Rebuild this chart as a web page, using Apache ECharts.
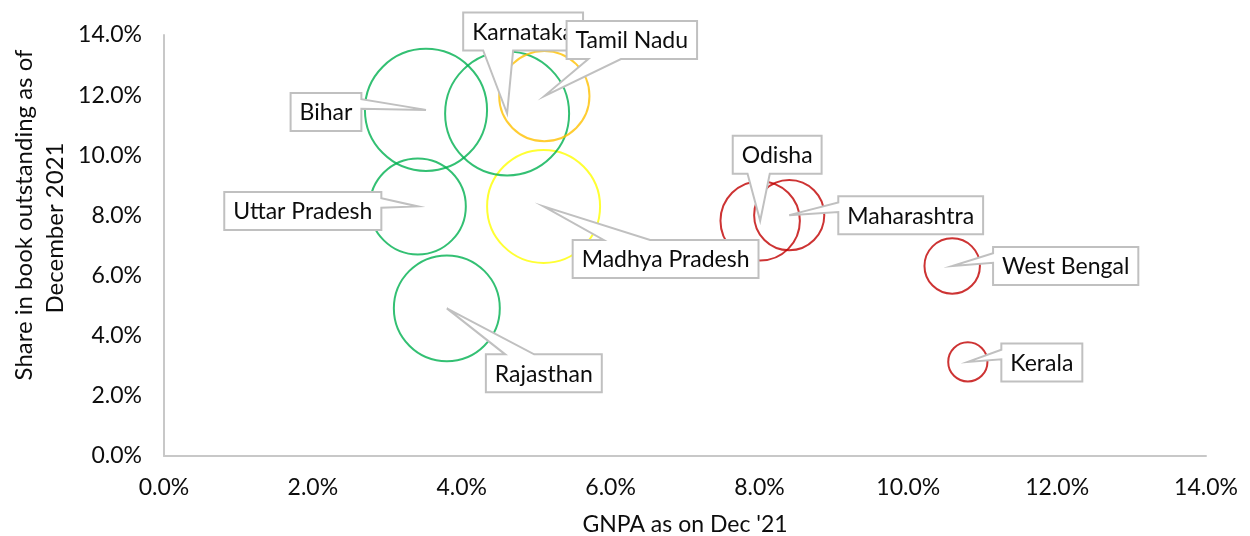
<!DOCTYPE html>
<html>
<head>
<meta charset="utf-8">
<script src="https://cdn.jsdelivr.net/npm/echarts@6/dist/echarts.min.js"></script>
<style>
  html, body { margin: 0; padding: 0; background: #ffffff; }
  #chart { width: 1250px; height: 536px; }
</style>
</head>
<body>
<div id="chart"></div>
<script>
// State-wise GNPA vs. share in book outstanding (Dec 2021); bubble area = relative portfolio size
const states     = ['Bihar', 'Uttar Pradesh', 'Rajasthan', 'Madhya Pradesh', 'Karnataka', 'Tamil Nadu', 'Odisha', 'Maharashtra', 'West Bengal', 'Kerala'];
const gnpa       = [3.52, 3.41, 3.80, 5.10, 4.61, 5.11, 8.01, 8.40, 10.59, 10.80];   // % GNPA as on Dec '21
const share      = [11.51, 8.30, 4.91, 8.30, 11.39, 11.97, 7.82, 8.01, 6.32, 3.13];  // % share in book outstanding
const bubbleSize = [97, 60, 73, 83, 100, 53, 41, 32, 20, 10];                      // relative size (largest = 100)
const bubbleBand = ['green', 'green', 'green', 'yellow', 'green', 'amber', 'red', 'red', 'red', 'red'];
const axisTicks  = [0, 2, 4, 6, 8, 10, 12, 14];
const yTitleLines = ['Share in book outstanding as of', 'December 2021'];
const xTitle = "GNPA as on Dec '21";

// ---- styling / layout ----
const bandColor = { green: '#00b050', amber: '#ffc000', yellow: '#ffff00', red: '#c00000' };
const MAX_DIAMETER = 124;
const FONT_FAMILY = 'Lato, "Open Sans", sans-serif';
const FONT_SIZE = 23;
const TITLE_FONT_SIZE = 24;
const TEXT_COLOR = '#0d0d0d';
const BOX_H = 38, BOX_PAD = 9;
// callout box centre, relative to the bubble centre (px)
const calloutOffset = {
  'Bihar': [-100, 2], 'Uttar Pradesh': [-115, 4.5], 'Rajasthan': [97, 65], 'Madhya Pradesh': [122, 52.5],
  'Karnataka': [16, -82], 'Tamil Nadu': [87.5, -56], 'Odisha': [17, -66], 'Maharashtra': [121.5, 0],
  'West Bengal': [113.5, 0], 'Kerala': [74, 0.5]
};

const measureCtx = document.createElement('canvas').getContext('2d');
measureCtx.font = FONT_SIZE + 'px ' + FONT_FAMILY;
function textWidth(s) { return measureCtx.measureText(s).width; }

// Rectangular callout with a wedge pointing to (tx, ty), following the wedgeRectCallout geometry
function calloutPoints(x0, y0, w, h, tx, ty) {
  const x1 = x0 + w, y1 = y0 + h;
  const dx = tx - (x0 + w / 2), dy = ty - (y0 + h / 2);
  const dq = dx * h / w;
  let side;
  if (Math.abs(dy) > Math.abs(dq)) side = dy < 0 ? 'top' : 'bottom';
  else side = dx < 0 ? 'left' : 'right';
  const xa = x0 + w * (dx > 0 ? 7 : 2) / 12, xb = x0 + w * (dx > 0 ? 10 : 5) / 12;
  const ya = y0 + h * (dy > 0 ? 7 : 2) / 12, yb = y0 + h * (dy > 0 ? 10 : 5) / 12;
  const p = [[x0, y0]];
  if (side === 'top') p.push([xa, y0], [tx, ty], [xb, y0]);
  p.push([x1, y0]);
  if (side === 'right') p.push([x1, ya], [tx, ty], [x1, yb]);
  p.push([x1, y1]);
  if (side === 'bottom') p.push([xb, y1], [tx, ty], [xa, y1]);
  p.push([x0, y1]);
  if (side === 'left') p.push([x0, yb], [tx, ty], [x0, ya]);
  return p;
}

const points = states.map((s, i) => ({
  value: [gnpa[i], share[i], bubbleSize[i], i],
  itemStyle: { borderColor: bandColor[bubbleBand[i]] }
}));

const chart = echarts.init(document.getElementById('chart'), null, { renderer: 'canvas' });

const axisCommon = {
  type: 'value', min: 0, max: 14, interval: 2,
  splitLine: { show: false },
  axisTick: { show: false },
  axisLine: { show: true, lineStyle: { color: '#c8c8c8', width: 2 } },
  axisLabel: {
    formatter: v => axisTicks.includes(v) ? v.toFixed(1) + '%' : '',
    fontFamily: FONT_FAMILY, fontSize: FONT_SIZE, color: TEXT_COLOR
  }
};

chart.setOption({
  animation: false,
  backgroundColor: '#ffffff',
  grid: { left: 164, right: 44, top: 35, bottom: 80, containLabel: false, outerBoundsMode: 'none' },
  xAxis: Object.assign({}, axisCommon, {
    axisLabel: Object.assign({}, axisCommon.axisLabel, { margin: 20 }),
    name: xTitle,
    nameLocation: 'middle',
    nameGap: 57,
    nameTextStyle: { fontFamily: FONT_FAMILY, fontSize: FONT_SIZE, color: TEXT_COLOR }
  }),
  yAxis: Object.assign({}, axisCommon, {
    axisLabel: Object.assign({}, axisCommon.axisLabel, { margin: 22 })
  }),
  graphic: [
    {
      type: 'text', x: 24, y: 215, rotation: Math.PI / 2,
      style: {
        text: yTitleLines[0], align: 'center', verticalAlign: 'middle',
        font: TITLE_FONT_SIZE + 'px ' + FONT_FAMILY, fill: TEXT_COLOR
      }
    },
    {
      type: 'text', x: 55, y: 228, rotation: Math.PI / 2,
      style: {
        text: yTitleLines[1], align: 'center', verticalAlign: 'middle',
        font: TITLE_FONT_SIZE + 'px ' + FONT_FAMILY, fill: TEXT_COLOR
      }
    }
  ],
  series: [
    {
      type: 'scatter',
      data: points,
      symbol: 'circle',
      symbolSize: d => MAX_DIAMETER * Math.sqrt(d[2] / 100),
      itemStyle: { color: 'rgba(0,0,0,0)', borderWidth: 2 },
      emphasis: { disabled: true },
      z: 2
    },
    {
      type: 'custom',
      coordinateSystem: 'cartesian2d',
      data: points.map(p => p.value),
      encode: { x: 0, y: 1 },
      clip: false,
      z: 5,
      renderItem: function (params, api) {
        const i = api.value(3);
        const name = states[i];
        const tip = api.coord([api.value(0), api.value(1)]);
        const off = calloutOffset[name];
        const w = textWidth(name) + 2 * BOX_PAD, h = BOX_H;
        const cx = tip[0] + off[0], cy = tip[1] + off[1];
        const x0 = cx - w / 2, y0 = cy - h / 2;
        return {
          type: 'group',
          children: [
            {
              type: 'polygon',
              shape: { points: calloutPoints(x0, y0, w, h, tip[0], tip[1]) },
              style: { fill: '#ffffff', stroke: '#c0c0c0', lineWidth: 2, lineJoin: 'miter' }
            },
            {
              type: 'text',
              style: {
                text: name, x: cx, y: cy + 1,
                align: 'center', verticalAlign: 'middle',
                font: FONT_SIZE + 'px ' + FONT_FAMILY,
                fill: TEXT_COLOR
              }
            }
          ]
        };
      }
    }
  ]
});
</script>
</body>
</html>
